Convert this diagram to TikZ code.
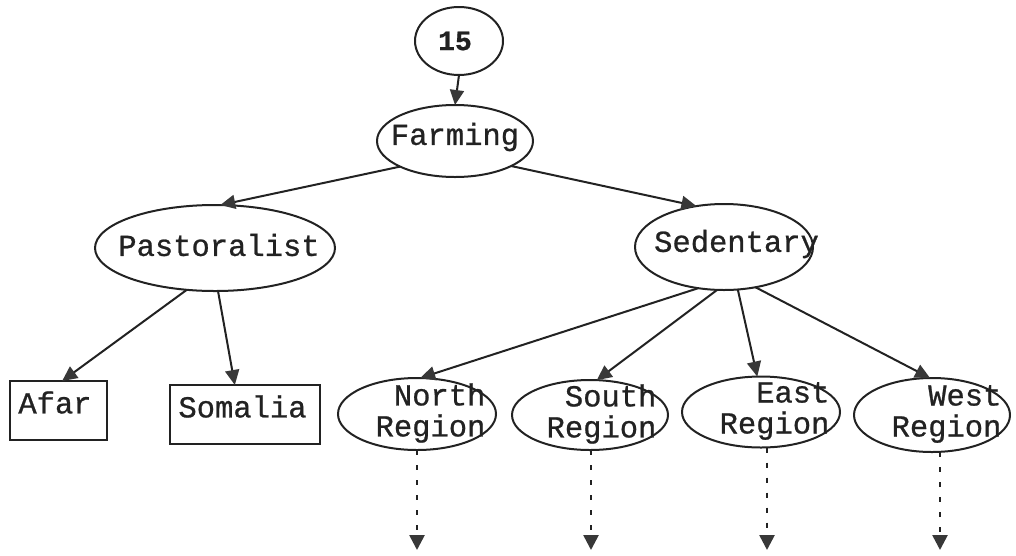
\documentclass[tikz,border=0pt]{standalone}
\usepackage{fontspec}
\setmainfont[FakeBold=0.8]{Liberation Mono}
\usetikzlibrary{shapes.geometric,arrows.meta}
\definecolor{ink}{HTML}{222222}
\definecolor{tipgray}{HTML}{383838}
\begin{document}
\begin{tikzpicture}[x=1pt,y=-1pt,
  every node/.style={inner sep=0pt,outer sep=0pt},
  every label/.style={inner sep=0pt,outer sep=0pt},
  ell/.style={ellipse,draw=ink,line width=2pt},
  box/.style={rectangle,draw=ink,line width=2pt},
  lbl/.style={font=\fontsize{30.5}{31}\selectfont,text=ink},
  numlbl/.style={font=\fontsize{28}{30}\selectfont\bfseries,text=ink},
  regtxt/.style={lbl,align=right},
  link/.style={draw=ink,line width=2pt,-{Triangle[length=15pt,width=14pt,color=tipgray]}},
  future/.style={draw=ink,line width=2.6pt,dash pattern=on 5pt off 10pt,-{Triangle[length=15pt,width=15pt,color=tipgray]}}
]
\useasboundingbox (0,0) rectangle (1016,555);

% tree nodes
\node[ell,minimum width=88,minimum height=68,label={[numlbl,xshift=-4,yshift=0]center:15}] (top) at (459,41) {};
\node[ell,minimum width=156,minimum height=72,label={[lbl,yshift=4]center:Farming}] (farm) at (455,141) {};
\node[ell,minimum width=240,minimum height=86,label={[lbl,xshift=4,yshift=3]center:Pastoralist}] (past) at (215,248) {};
\node[ell,minimum width=178,minimum height=86,label={[lbl,xshift=12.5,yshift=3]center:Sedentary}] (sed) at (724,247) {};

\node[box,minimum width=97,minimum height=59,label={[lbl,xshift=-3.5,yshift=8]center:Afar}] (afar) at (58.5,410.5) {};
\node[box,minimum width=150,minimum height=59,label={[lbl,xshift=-2.5,yshift=8]center:Somalia}] (som) at (245,414.5) {};

\node[ell,minimum width=158,minimum height=72,label={[regtxt,xshift=13.5,yshift=1]center:North\\Region}] (north) at (417,414) {};
\node[ell,minimum width=156,minimum height=70,label={[regtxt,xshift=11.5,yshift=1]center:South\\Region}] (south) at (590,415) {};
\node[ell,minimum width=158,minimum height=71,label={[regtxt,xshift=13.5,yshift=1]center:East\\Region}] (east) at (761,412) {};
\node[ell,minimum width=156,minimum height=74,label={[regtxt,xshift=14.5,yshift=1]center:West\\Region}] (west) at (932,415) {};

% open ends of the dotted arrows
\coordinate (nEnd) at (417,550);
\coordinate (sEnd) at (591,550);
\coordinate (eEnd) at (767,550);
\coordinate (wEnd) at (940,550);

% connectors
\draw[link] (top.south) -- (farm.north);
\draw[link] (farm.205) -- (past.83);
\draw[link] (farm.336) -- (sed.124);
\draw[link] (past.236) -- (afar.83);
\draw[link] (past.274) -- (som.109);
\draw[link] (sed.238) -- (north.85);
\draw[link] (sed.261) -- (south.79);
\draw[link] (sed.288) -- (east.96);
\draw[link] (sed.308) -- (west.93);

\draw[future] (nEnd |- north.south) -- (nEnd);
\draw[future] (sEnd |- south.south) -- (sEnd);
\draw[future] (eEnd |- east.south) -- (eEnd);
\draw[future] (wEnd |- west.south) -- (wEnd);
\end{tikzpicture}
\end{document}
